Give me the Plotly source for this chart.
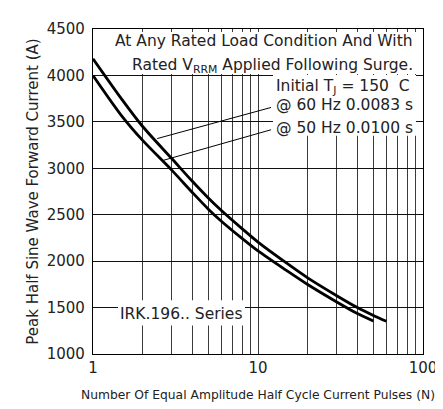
import plotly.graph_objects as go

# Data
pulses_60hz = [1, 1.5, 2, 3, 4, 5, 6, 8, 10, 15, 20, 30, 40, 50, 60]
current_60hz = [4180, 3740, 3450, 3105, 2860, 2680, 2545, 2350, 2205, 1975, 1820, 1628, 1500, 1415, 1352]

pulses_50hz = [1, 1.5, 2, 3, 4, 5, 6, 8, 10, 15, 20, 30, 40, 50]
current_50hz = [4000, 3560, 3300, 2980, 2740, 2560, 2430, 2245, 2110, 1895, 1748, 1560, 1435, 1355]

# pointer lines from labels to curves
pointer_60hz_x = [2.45, 12.0]
pointer_60hz_y = [3320, 3655]
pointer_50hz_x = [2.66, 12.0]
pointer_50hz_y = [3085, 3415]

x_tick_vals = [1, 10, 100]
x_tick_labels = ["1", "10", "100"]
x_minor_grid_vals = [2, 3, 4, 5, 6, 7, 8, 9, 20, 30, 40, 50, 60, 70, 80, 90]
y_tick_vals = [1000, 1500, 2000, 2500, 3000, 3500, 4000, 4500]

FONT = "DejaVu Sans"
TXT = "#222222"

fig = go.Figure()
for xs, ys in [(pulses_60hz, current_60hz), (pulses_50hz, current_50hz)]:
    fig.add_trace(go.Scatter(x=xs, y=ys, mode="lines",
                             line=dict(color="black", width=2.8, shape="spline", smoothing=0.8),
                             showlegend=False, hoverinfo="skip"))
for xs, ys in [(pointer_60hz_x, pointer_60hz_y), (pointer_50hz_x, pointer_50hz_y)]:
    fig.add_trace(go.Scatter(x=xs, y=ys, mode="lines",
                             line=dict(color="black", width=1), showlegend=False, hoverinfo="skip"))

fig.update_xaxes(type="log", range=[0, 2],
                 tickmode="array", tickvals=x_tick_vals, ticktext=x_tick_labels,
                 showgrid=True, gridcolor="#3a3a3a", gridwidth=1,
                 minor=dict(tickmode="array", tickvals=x_minor_grid_vals, showgrid=True,
                            gridcolor="#3a3a3a", gridwidth=1, ticks=""),
                 showline=True, linecolor="black", linewidth=1.2, mirror=True,
                 ticks="", zeroline=False,
                 tickfont=dict(family=FONT, size=15, color=TXT),
                 title=dict(text="Number Of Equal Amplitude Half Cycle Current Pulses (N)",
                            font=dict(family=FONT, size=12.3, color=TXT), standoff=14))
fig.update_yaxes(range=[1000, 4500], tickmode="array", tickvals=y_tick_vals,
                 showgrid=True, gridcolor="#111111", gridwidth=1,
                 showline=True, linecolor="black", linewidth=1.2, mirror=True,
                 ticks="", zeroline=False, ticklabelstandoff=4,
                 tickfont=dict(family=FONT, size=15, color=TXT),
                 title=dict(text="Peak Half Sine Wave Forward Current (A)",
                            font=dict(family=FONT, size=15, color=TXT), standoff=4))

def paper_x(px):
    return (px - 85) / 330

def paper_y(py):
    return (346 - py) / 332

# white background boxes behind the texts (hide the grid there)
for x0, x1, y0, y1 in [(110, 408, 17, 60), (265, 408, 61, 123), (110, 237, 291, 317)]:
    fig.add_shape(type="rect", xref="paper", yref="paper",
                  x0=paper_x(x0), x1=paper_x(x1), y0=paper_y(y1), y1=paper_y(y0),
                  fillcolor="white", line=dict(width=0), layer="above")

texts = [
    ("At Any Rated Load Condition And With", 407, 26.7),
    ("Rated V<sub>RRM</sub> Applied Following Surge.", 407, 52),
    ("Initial T<sub>J</sub> = 150  C", 404, 73),
    ("@ 60 Hz 0.0083 s", 407, 92),
    ("@ 50 Hz 0.0100 s", 407, 115),
]
for t, px, py in texts:
    fig.add_annotation(text=t, xref="paper", yref="paper", x=paper_x(px), y=paper_y(py),
                       xanchor="right", yanchor="middle", showarrow=False,
                       font=dict(family=FONT, size=15.5, color=TXT))
fig.add_annotation(text="IRK.196.. Series", xref="paper", yref="paper",
                   x=paper_x(173), y=paper_y(305), xanchor="center", yanchor="middle",
                   showarrow=False, font=dict(family=FONT, size=15.5, color=TXT))

fig.update_layout(width=443, height=409, margin=dict(l=85, r=28, t=14, b=63),
                  paper_bgcolor="white", plot_bgcolor="white",
                  font=dict(family=FONT, color=TXT))

fig.write_html("out.html")
